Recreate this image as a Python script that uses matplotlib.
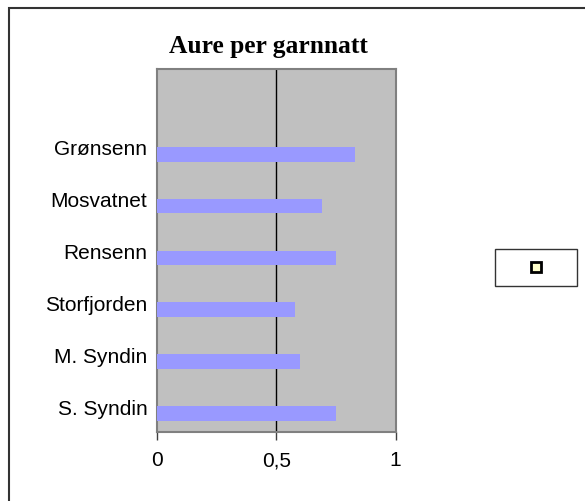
import numpy as np
import matplotlib.pyplot as plt
from matplotlib.patches import Rectangle
from matplotlib.lines import Line2D

# data (bottom to top, with an empty category on top)
innsjoer = ["S. Syndin", "M. Syndin", "Storfjorden", "Rensenn", "Mosvatnet", "Grønsenn", ""]
aure = [0.75, 0.60, 0.58, 0.75, 0.69, 0.83, 0.0]
x_ticks = [0, 0.5, 1]
x_labels = ["0", "0,5", "1"]

fig = plt.figure(figsize=(5.85, 5.02), dpi=100)
fig.patch.set_facecolor("white")

# outer chart border (runs past right/bottom edge like the original)
fig.patches.append(Rectangle((9 / 585, -0.05), 1.0, 1 - 9 / 502 + 0.05,
                             transform=fig.transFigure, fill=False,
                             edgecolor="#333333", linewidth=1.5))

ax = fig.add_axes([157 / 585, 1 - 433 / 502, 238.5 / 585, 363 / 502])
ax.set_facecolor("#C0C0C0")

y = np.arange(len(innsjoer))
bar_h = 1 / 3.5
ax.barh(y - bar_h / 2, aure, height=bar_h, color="#9999FF", zorder=3)

ax.axvline(0.5, color="black", linewidth=1, zorder=2)

ax.set_xlim(0, 1)
ax.set_ylim(-0.5, len(innsjoer) - 0.5)
ax.set_xticks(x_ticks)
ax.set_xticklabels(x_labels, fontsize=15, fontfamily="Liberation Sans")
ax.set_yticks(y)
ax.set_yticklabels(innsjoer, fontsize=15, fontfamily="Liberation Sans")
ax.tick_params(axis="x", length=6, width=1, color="#404040", pad=7, direction="out")
ax.tick_params(axis="y", length=0, pad=7)

for s in ax.spines.values():
    s.set_color("#808080")
    s.set_linewidth(1.5)

fig.text(268 / 585, 1 - 47 / 502, "Aure per garnnatt", ha="center", va="center",
         fontsize=18.4, fontweight="bold", fontfamily="Liberation Serif")

# legend box with the empty series marker
marker = Line2D([], [], linestyle="none", marker="s", markersize=7,
                markerfacecolor="#FFFFCC", markeredgecolor="black",
                markeredgewidth=2)
leg = fig.legend([marker], [""], loc="center", bbox_to_anchor=(536 / 585, 1 - 268.5 / 502),
                 frameon=True, fancybox=False, edgecolor="black",
                 borderpad=0.8, handlelength=4.3, handletextpad=0.0,
                 borderaxespad=0)
leg.get_frame().set_linewidth(1)

fig.savefig("out.png", dpi=100, facecolor="white")
